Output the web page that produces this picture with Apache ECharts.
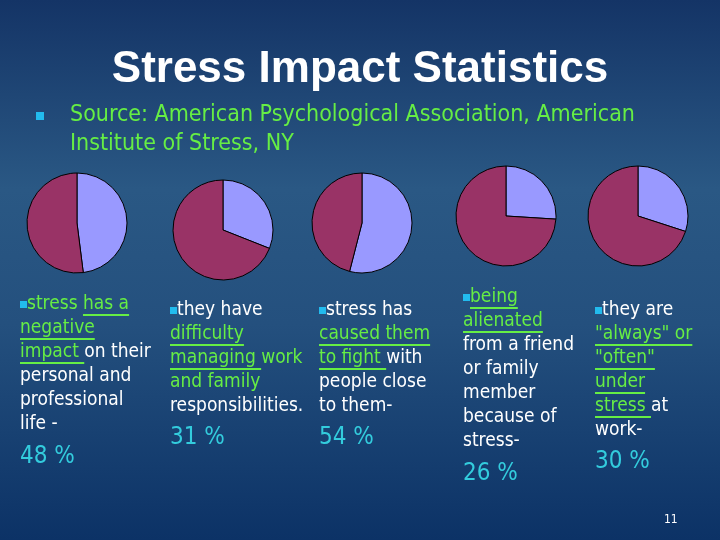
<!DOCTYPE html>
<html>
<head>
<meta charset="utf-8">
<script src="https://cdn.jsdelivr.net/npm/echarts@6/dist/echarts.min.js"></script>
<style>
  html, body { margin: 0; padding: 0; }
  #chart { width: 720px; height: 540px; }
</style>
</head>
<body>
<div id="chart"></div>
<script>
  // share of people affected, one pie per statement
  var percents = [48, 31, 54, 26, 30];
  var percentLabels = ['48 %', '31 %', '54 %', '26 %', '30 %'];
  var titleText = 'Stress Impact Statistics';
  var sourceLines = ['Source: American Psychological Association, American', 'Institute of Stress, NY'];

  // each line: list of [text, kind]  w = white, g = green, u = green underlined
  var statements = [
    [[['stress ', 'g'], ['has a', 'u']], [['negative', 'u']], [['impact ', 'u'], ['on their', 'w']], [['personal and', 'w']], [['professional', 'w']], [['life -', 'w']]],
    [[['they have', 'w']], [['difficulty', 'u']], [['managing ', 'u'], ['work', 'g']], [['and family', 'g']], [['responsibilities.', 'w']]],
    [[['stress has', 'w']], [['caused them', 'u']], [['to fight ', 'u'], ['with', 'w']], [['people close', 'w']], [['to them-', 'w']]],
    [[['being', 'u']], [['alienated', 'u']], [['from a friend', 'w']], [['or family', 'w']], [['member', 'w']], [['because of', 'w']], [['stress-', 'w']]],
    [[['they are', 'w']], [['"always" or', 'u']], [['"often"', 'u']], [['under', 'u']], [['stress ', 'u'], ['at', 'w']], [['work-', 'w']]]
  ];

  var pieCenters = [[77, 223], [223, 230], [362, 223], [506, 216], [638, 216]];
  var pieRadius = 50;
  var blockX = [20, 170, 319, 463, 595];
  var blockTop = [304, 310, 310, 297, 310];
  var percentY = [457, 438, 438, 474, 462];

  var GREEN = '#66ee44';
  var CYAN = '#33ccdd';
  var BULLET = '#22bbee';
  var bodyFont = '"DejaVu Sans Condensed", "Noto Sans", sans-serif';
  var bodySize = 19;
  var lineH = 24;

  var ctx = document.createElement('canvas').getContext('2d');
  ctx.font = bodySize + 'px ' + bodyFont;

  var graphics = [];
  graphics.push({
    type: 'text', left: 'center', top: 48,
    style: { text: titleText, fill: '#fff', font: 'bold 44px "Liberation Sans", Arial, sans-serif' }
  });
  graphics.push({ type: 'rect', shape: { x: 36, y: 112, width: 8, height: 8 }, style: { fill: BULLET } });
  sourceLines.forEach(function (t, i) {
    graphics.push({
      type: 'text', x: 70, y: 115 + i * 29,
      style: { text: t, fill: GREEN, font: '23px ' + bodyFont, verticalAlign: 'middle' }
    });
  });

  statements.forEach(function (lines, b) {
    var x0 = blockX[b];
    lines.forEach(function (segs, li) {
      var y = blockTop[b] + li * lineH;
      var x = x0;
      if (li === 0) {
        graphics.push({ type: 'rect', shape: { x: x, y: y - 3, width: 7, height: 7 }, style: { fill: BULLET } });
        x += 7;
      }
      segs.forEach(function (s) {
        var w = ctx.measureText(s[0]).width;
        graphics.push({
          type: 'text', x: x, y: y,
          style: { text: s[0], fill: s[1] === 'w' ? '#fff' : GREEN, font: bodySize + 'px ' + bodyFont, verticalAlign: 'middle' }
        });
        if (s[1] === 'u') {
          graphics.push({ type: 'line', shape: { x1: x, y1: y + 11, x2: x + w, y2: y + 11 }, style: { stroke: GREEN, lineWidth: 2 } });
        }
        x += w;
      });
    });
    graphics.push({
      type: 'text', x: x0, y: percentY[b],
      style: { text: percentLabels[b], fill: CYAN, font: '24px ' + bodyFont, verticalAlign: 'middle' }
    });
  });

  graphics.push({
    type: 'text', x: 664, y: 520,
    style: { text: '11', fill: '#fff', font: '12px ' + bodyFont, verticalAlign: 'middle' }
  });

  var series = percents.map(function (p, i) {
    return {
      type: 'pie',
      center: pieCenters[i],
      radius: pieRadius,
      startAngle: 90,
      clockwise: true,
      silent: true,
      label: { show: false },
      labelLine: { show: false },
      itemStyle: { borderColor: '#000', borderWidth: 1 },
      data: [
        { value: p, itemStyle: { color: '#9999ff' } },
        { value: 100 - p, itemStyle: { color: '#993366' } }
      ]
    };
  });

  var chart = echarts.init(document.getElementById('chart'));
  chart.setOption({
    animation: false,
    backgroundColor: new echarts.graphic.LinearGradient(0, 0, 0, 1, [
      { offset: 0, color: '#143466' },
      { offset: 0.35, color: '#2a5884' },
      { offset: 0.6, color: '#24507e' },
      { offset: 1, color: '#0c3266' }
    ]),
    graphic: graphics,
    series: series
  });
</script>
</body>
</html>
